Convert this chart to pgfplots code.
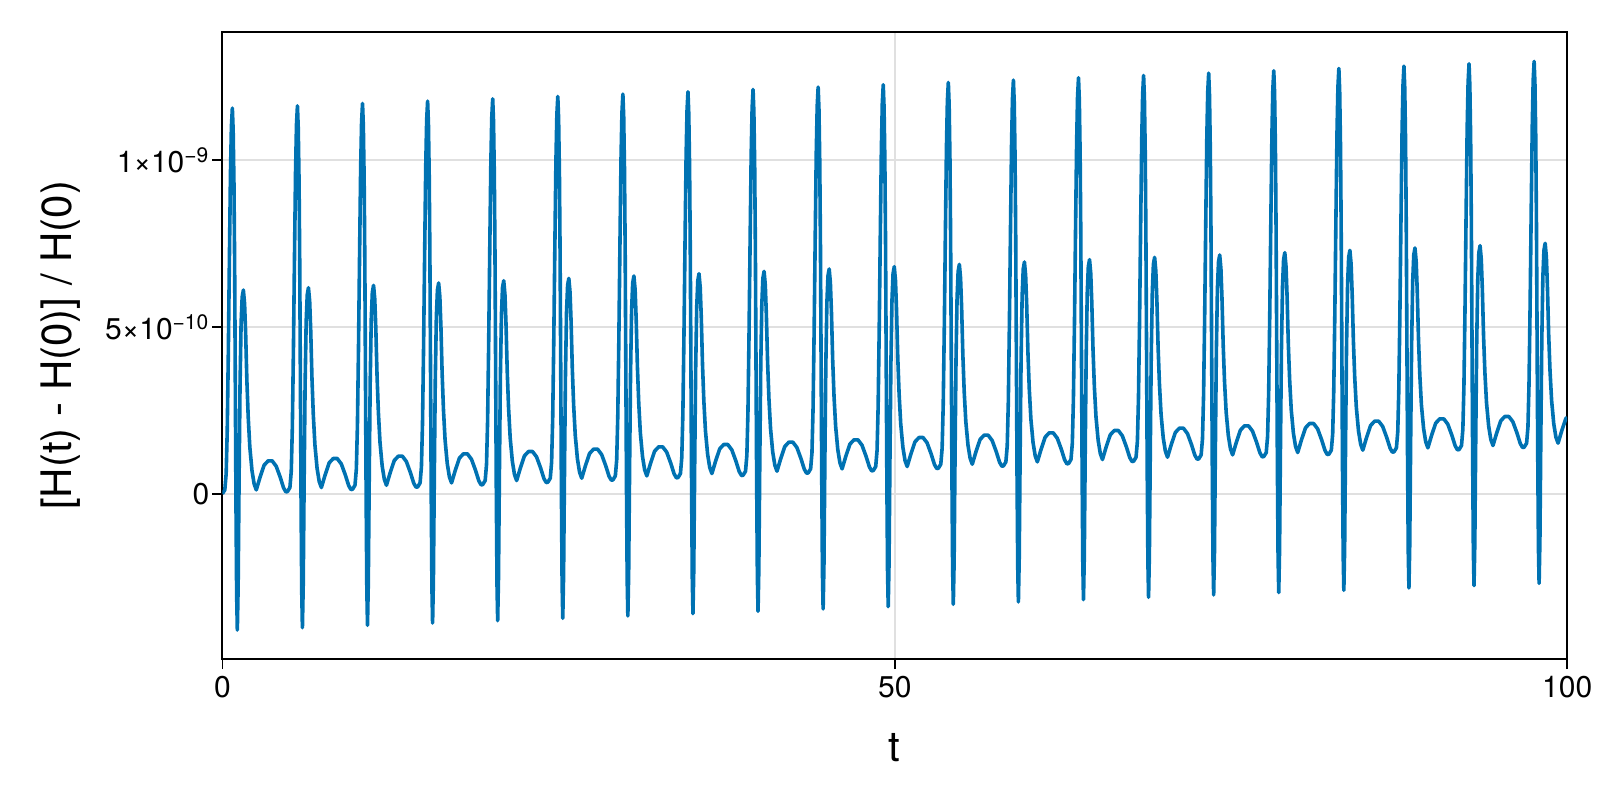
\documentclass[border=0pt]{standalone}
\usepackage{fontspec}
\setmainfont{TeX Gyre Heros}
\usepackage{pgfplots}
\pgfplotsset{compat=1.18}
\definecolor{lineblue}{RGB}{0,114,178}
\definecolor{gridgray}{RGB}{224,224,224}
\begin{document}
\begin{tikzpicture}
\begin{axis}[
  scale only axis, width=672.4pt, height=313.8pt,
  xmin=0, xmax=100, ymin=-0.4954, ymax=1.3854,
  xtick={0,50,100}, ytick={0,0.5,1},
  yticklabels={0, 5×10\textsuperscript{−10}, 1×10\textsuperscript{−9}},
  tick pos=left, tick align=outside, major tick length=5pt,
  tick style={black, line width=0.8pt},
  axis line style={line width=1pt},
  grid=major, major grid style={gridgray, line width=1pt},
  /pgf/number format/assume math mode=true,
  tick label style={font=\fontsize{15}{18}\selectfont},
  yticklabel style={xshift=2pt},
  label style={font=\fontsize{21}{25}\selectfont},
  xlabel={t}, ylabel={[H(t) - H(0)] / H(0)},
  xlabel style={at={(axis description cs:0.5,-0.1622)}, anchor=base},
  ylabel style={at={(axis description cs:-0.1205,0.5)}, anchor=center},
]
% values in units of 1e-9
\addplot[lineblue, line width=1.8pt, line join=round, no markers] coordinates {
(0,0) (0.18,0.012) (0.28,0.06) (0.36,0.19) (0.44,0.42) (0.52,0.70) (0.60,0.96) (0.67,1.10) (0.74,1.156) (0.80,1.09) (0.86,0.93) (0.91,0.69) (0.96,0.33) (1.01,-0.03) (1.06,-0.30) (1.11,-0.408) (1.17,-0.28) (1.24,0.04) (1.31,0.32) (1.39,0.51) (1.47,0.59) (1.56,0.611) (1.65,0.57) (1.73,0.48) (1.82,0.34) (1.92,0.23) (2.04,0.14) (2.20,0.07) (2.36,0.03) (2.52,0.012) (2.80,0.05) (3.10,0.086) (3.40,0.099) (3.70,0.099) (4.00,0.083) (4.30,0.05) (4.55,0.018) (4.72,0.006)
(4.84,0.007) (5.02,0.019) (5.12,0.067) (5.20,0.197) (5.28,0.427) (5.36,0.707) (5.44,0.967) (5.51,1.107) (5.58,1.163) (5.64,1.097) (5.70,0.937) (5.75,0.697) (5.80,0.337) (5.85,-0.023) (5.90,-0.293) (5.95,-0.401) (6.01,-0.273) (6.08,0.047) (6.15,0.327) (6.23,0.517) (6.31,0.597) (6.40,0.618) (6.49,0.577) (6.57,0.487) (6.66,0.347) (6.76,0.237) (6.88,0.147) (7.04,0.077) (7.20,0.037) (7.36,0.019) (7.64,0.057) (7.94,0.093) (8.24,0.106) (8.54,0.106) (8.84,0.090) (9.14,0.057) (9.39,0.025) (9.56,0.013)
(9.68,0.014) (9.86,0.026) (9.96,0.074) (10.04,0.204) (10.12,0.434) (10.20,0.714) (10.28,0.974) (10.35,1.114) (10.42,1.170) (10.48,1.104) (10.54,0.944) (10.59,0.704) (10.64,0.344) (10.69,-0.016) (10.74,-0.286) (10.79,-0.394) (10.85,-0.266) (10.92,0.054) (10.99,0.334) (11.07,0.524) (11.15,0.604) (11.24,0.625) (11.33,0.584) (11.41,0.494) (11.50,0.354) (11.60,0.244) (11.72,0.154) (11.88,0.084) (12.04,0.044) (12.20,0.026) (12.48,0.064) (12.78,0.100) (13.08,0.113) (13.38,0.113) (13.68,0.097) (13.98,0.064) (14.23,0.032) (14.40,0.020)
(14.52,0.021) (14.70,0.033) (14.80,0.081) (14.88,0.211) (14.96,0.441) (15.04,0.721) (15.12,0.981) (15.19,1.121) (15.26,1.177) (15.32,1.111) (15.38,0.951) (15.43,0.711) (15.48,0.351) (15.53,-0.009) (15.58,-0.279) (15.63,-0.387) (15.69,-0.259) (15.76,0.061) (15.83,0.341) (15.91,0.531) (15.99,0.611) (16.08,0.632) (16.17,0.591) (16.25,0.501) (16.34,0.361) (16.44,0.251) (16.56,0.161) (16.72,0.091) (16.88,0.051) (17.04,0.033) (17.32,0.071) (17.62,0.107) (17.92,0.120) (18.22,0.120) (18.52,0.104) (18.82,0.071) (19.07,0.039) (19.24,0.027)
(19.36,0.028) (19.54,0.040) (19.64,0.088) (19.72,0.218) (19.80,0.448) (19.88,0.728) (19.96,0.988) (20.03,1.128) (20.10,1.184) (20.16,1.118) (20.22,0.958) (20.27,0.718) (20.32,0.358) (20.37,-0.002) (20.42,-0.272) (20.47,-0.380) (20.53,-0.252) (20.60,0.068) (20.67,0.348) (20.75,0.538) (20.83,0.618) (20.92,0.639) (21.01,0.598) (21.09,0.508) (21.18,0.368) (21.28,0.258) (21.40,0.168) (21.56,0.098) (21.72,0.058) (21.88,0.040) (22.16,0.078) (22.46,0.114) (22.76,0.127) (23.06,0.127) (23.36,0.111) (23.66,0.078) (23.91,0.046) (24.08,0.034)
(24.20,0.035) (24.38,0.047) (24.48,0.095) (24.56,0.225) (24.64,0.455) (24.72,0.735) (24.80,0.995) (24.87,1.135) (24.94,1.191) (25.00,1.125) (25.06,0.965) (25.11,0.725) (25.16,0.365) (25.21,0.005) (25.26,-0.265) (25.31,-0.373) (25.37,-0.245) (25.44,0.075) (25.51,0.355) (25.59,0.545) (25.67,0.625) (25.76,0.646) (25.85,0.605) (25.93,0.515) (26.02,0.375) (26.12,0.265) (26.24,0.175) (26.40,0.105) (26.56,0.065) (26.72,0.047) (27.00,0.085) (27.30,0.121) (27.60,0.134) (27.90,0.134) (28.20,0.118) (28.50,0.085) (28.75,0.053) (28.92,0.041)
(29.04,0.042) (29.22,0.054) (29.32,0.102) (29.40,0.232) (29.48,0.462) (29.56,0.742) (29.64,1.002) (29.71,1.142) (29.78,1.198) (29.84,1.132) (29.90,0.972) (29.95,0.732) (30.00,0.372) (30.05,0.012) (30.10,-0.258) (30.15,-0.366) (30.21,-0.238) (30.28,0.082) (30.35,0.362) (30.43,0.552) (30.51,0.632) (30.60,0.653) (30.69,0.612) (30.77,0.522) (30.86,0.382) (30.96,0.272) (31.08,0.182) (31.24,0.112) (31.40,0.072) (31.56,0.054) (31.84,0.092) (32.14,0.128) (32.44,0.141) (32.74,0.141) (33.04,0.125) (33.34,0.092) (33.59,0.060) (33.76,0.048)
(33.88,0.049) (34.06,0.061) (34.16,0.109) (34.24,0.239) (34.32,0.469) (34.40,0.749) (34.48,1.009) (34.55,1.149) (34.62,1.205) (34.68,1.139) (34.74,0.979) (34.79,0.739) (34.84,0.379) (34.89,0.019) (34.94,-0.251) (34.99,-0.359) (35.05,-0.231) (35.12,0.089) (35.19,0.369) (35.27,0.559) (35.35,0.639) (35.44,0.660) (35.53,0.619) (35.61,0.529) (35.70,0.389) (35.80,0.279) (35.92,0.189) (36.08,0.119) (36.24,0.079) (36.40,0.061) (36.68,0.099) (36.98,0.135) (37.28,0.148) (37.58,0.148) (37.88,0.132) (38.18,0.099) (38.43,0.067) (38.60,0.055)
(38.72,0.056) (38.90,0.068) (39.00,0.116) (39.08,0.246) (39.16,0.476) (39.24,0.756) (39.32,1.016) (39.39,1.156) (39.46,1.212) (39.52,1.146) (39.58,0.986) (39.63,0.746) (39.68,0.386) (39.73,0.026) (39.78,-0.244) (39.83,-0.352) (39.89,-0.224) (39.96,0.096) (40.03,0.376) (40.11,0.566) (40.19,0.646) (40.28,0.667) (40.37,0.626) (40.45,0.536) (40.54,0.396) (40.64,0.286) (40.76,0.196) (40.92,0.126) (41.08,0.086) (41.24,0.068) (41.52,0.106) (41.82,0.142) (42.12,0.155) (42.42,0.155) (42.72,0.139) (43.02,0.106) (43.27,0.074) (43.44,0.062)
(43.56,0.063) (43.74,0.075) (43.84,0.123) (43.92,0.253) (44.00,0.483) (44.08,0.763) (44.16,1.023) (44.23,1.163) (44.30,1.219) (44.36,1.153) (44.42,0.993) (44.47,0.753) (44.52,0.393) (44.57,0.033) (44.62,-0.237) (44.67,-0.345) (44.73,-0.217) (44.80,0.103) (44.87,0.383) (44.95,0.573) (45.03,0.653) (45.12,0.674) (45.21,0.633) (45.29,0.543) (45.38,0.403) (45.48,0.293) (45.60,0.203) (45.76,0.133) (45.92,0.093) (46.08,0.075) (46.36,0.113) (46.66,0.149) (46.96,0.162) (47.26,0.162) (47.56,0.146) (47.86,0.113) (48.11,0.081) (48.28,0.069)
(48.40,0.070) (48.58,0.082) (48.68,0.130) (48.76,0.260) (48.84,0.490) (48.92,0.770) (49.00,1.030) (49.07,1.170) (49.14,1.226) (49.20,1.160) (49.26,1.000) (49.31,0.760) (49.36,0.400) (49.41,0.040) (49.46,-0.230) (49.51,-0.338) (49.57,-0.210) (49.64,0.110) (49.71,0.390) (49.79,0.580) (49.87,0.660) (49.96,0.681) (50.05,0.640) (50.13,0.550) (50.22,0.410) (50.32,0.300) (50.44,0.210) (50.60,0.140) (50.76,0.100) (50.92,0.082) (51.20,0.120) (51.50,0.156) (51.80,0.169) (52.10,0.169) (52.40,0.153) (52.70,0.120) (52.95,0.088) (53.12,0.076)
(53.24,0.077) (53.42,0.089) (53.52,0.137) (53.60,0.267) (53.68,0.497) (53.76,0.777) (53.84,1.037) (53.91,1.177) (53.98,1.233) (54.04,1.167) (54.10,1.007) (54.15,0.767) (54.20,0.407) (54.25,0.047) (54.30,-0.223) (54.35,-0.331) (54.41,-0.203) (54.48,0.117) (54.55,0.397) (54.63,0.587) (54.71,0.667) (54.80,0.688) (54.89,0.647) (54.97,0.557) (55.06,0.417) (55.16,0.307) (55.28,0.217) (55.44,0.147) (55.60,0.107) (55.76,0.089) (56.04,0.127) (56.34,0.163) (56.64,0.176) (56.94,0.176) (57.24,0.160) (57.54,0.127) (57.79,0.095) (57.96,0.083)
(58.08,0.084) (58.26,0.096) (58.36,0.144) (58.44,0.274) (58.52,0.504) (58.60,0.784) (58.68,1.044) (58.75,1.184) (58.82,1.240) (58.88,1.174) (58.94,1.014) (58.99,0.774) (59.04,0.414) (59.09,0.054) (59.14,-0.216) (59.19,-0.324) (59.25,-0.196) (59.32,0.124) (59.39,0.404) (59.47,0.594) (59.55,0.674) (59.64,0.695) (59.73,0.654) (59.81,0.564) (59.90,0.424) (60.00,0.314) (60.12,0.224) (60.28,0.154) (60.44,0.114) (60.60,0.096) (60.88,0.134) (61.18,0.170) (61.48,0.183) (61.78,0.183) (62.08,0.167) (62.38,0.134) (62.63,0.102) (62.80,0.090)
(62.92,0.091) (63.10,0.103) (63.20,0.151) (63.28,0.281) (63.36,0.511) (63.44,0.791) (63.52,1.051) (63.59,1.191) (63.66,1.247) (63.72,1.181) (63.78,1.021) (63.83,0.781) (63.88,0.421) (63.93,0.061) (63.98,-0.209) (64.03,-0.317) (64.09,-0.189) (64.16,0.131) (64.23,0.411) (64.31,0.601) (64.39,0.681) (64.48,0.702) (64.57,0.661) (64.65,0.571) (64.74,0.431) (64.84,0.321) (64.96,0.231) (65.12,0.161) (65.28,0.121) (65.44,0.103) (65.72,0.141) (66.02,0.177) (66.32,0.190) (66.62,0.190) (66.92,0.174) (67.22,0.141) (67.47,0.109) (67.64,0.097)
(67.76,0.098) (67.94,0.110) (68.04,0.158) (68.12,0.288) (68.20,0.518) (68.28,0.798) (68.36,1.058) (68.43,1.198) (68.50,1.254) (68.56,1.188) (68.62,1.028) (68.67,0.788) (68.72,0.428) (68.77,0.068) (68.82,-0.202) (68.87,-0.310) (68.93,-0.182) (69.00,0.138) (69.07,0.418) (69.15,0.608) (69.23,0.688) (69.32,0.709) (69.41,0.668) (69.49,0.578) (69.58,0.438) (69.68,0.328) (69.80,0.238) (69.96,0.168) (70.12,0.128) (70.28,0.110) (70.56,0.148) (70.86,0.184) (71.16,0.197) (71.46,0.197) (71.76,0.181) (72.06,0.148) (72.31,0.116) (72.48,0.104)
(72.60,0.105) (72.78,0.117) (72.88,0.165) (72.96,0.295) (73.04,0.525) (73.12,0.805) (73.20,1.065) (73.27,1.205) (73.34,1.261) (73.40,1.195) (73.46,1.035) (73.51,0.795) (73.56,0.435) (73.61,0.075) (73.66,-0.195) (73.71,-0.303) (73.77,-0.175) (73.84,0.145) (73.91,0.425) (73.99,0.615) (74.07,0.695) (74.16,0.716) (74.25,0.675) (74.33,0.585) (74.42,0.445) (74.52,0.335) (74.64,0.245) (74.80,0.175) (74.96,0.135) (75.12,0.117) (75.40,0.155) (75.70,0.191) (76.00,0.204) (76.30,0.204) (76.60,0.188) (76.90,0.155) (77.15,0.123) (77.32,0.111)
(77.44,0.112) (77.62,0.124) (77.72,0.172) (77.80,0.302) (77.88,0.532) (77.96,0.812) (78.04,1.072) (78.11,1.212) (78.18,1.268) (78.24,1.202) (78.30,1.042) (78.35,0.802) (78.40,0.442) (78.45,0.082) (78.50,-0.188) (78.55,-0.296) (78.61,-0.168) (78.68,0.152) (78.75,0.432) (78.83,0.622) (78.91,0.702) (79.00,0.723) (79.09,0.682) (79.17,0.592) (79.26,0.452) (79.36,0.342) (79.48,0.252) (79.64,0.182) (79.80,0.142) (79.96,0.124) (80.24,0.162) (80.54,0.198) (80.84,0.211) (81.14,0.211) (81.44,0.195) (81.74,0.162) (81.99,0.130) (82.16,0.118)
(82.28,0.119) (82.46,0.131) (82.56,0.179) (82.64,0.309) (82.72,0.539) (82.80,0.819) (82.88,1.079) (82.95,1.219) (83.02,1.275) (83.08,1.209) (83.14,1.049) (83.19,0.809) (83.24,0.449) (83.29,0.089) (83.34,-0.181) (83.39,-0.289) (83.45,-0.161) (83.52,0.159) (83.59,0.439) (83.67,0.629) (83.75,0.709) (83.84,0.730) (83.93,0.689) (84.01,0.599) (84.10,0.459) (84.20,0.349) (84.32,0.259) (84.48,0.189) (84.64,0.149) (84.80,0.131) (85.08,0.169) (85.38,0.205) (85.68,0.218) (85.98,0.218) (86.28,0.202) (86.58,0.169) (86.83,0.137) (87.00,0.125)
(87.12,0.126) (87.30,0.138) (87.40,0.186) (87.48,0.316) (87.56,0.546) (87.64,0.826) (87.72,1.086) (87.79,1.226) (87.86,1.282) (87.92,1.216) (87.98,1.056) (88.03,0.816) (88.08,0.456) (88.13,0.096) (88.18,-0.174) (88.23,-0.282) (88.29,-0.154) (88.36,0.166) (88.43,0.446) (88.51,0.636) (88.59,0.716) (88.68,0.737) (88.77,0.696) (88.85,0.606) (88.94,0.466) (89.04,0.356) (89.16,0.266) (89.32,0.196) (89.48,0.156) (89.64,0.138) (89.92,0.176) (90.22,0.212) (90.52,0.225) (90.82,0.225) (91.12,0.209) (91.42,0.176) (91.67,0.144) (91.84,0.132)
(91.96,0.133) (92.14,0.145) (92.24,0.193) (92.32,0.323) (92.40,0.553) (92.48,0.833) (92.56,1.093) (92.63,1.233) (92.70,1.289) (92.76,1.223) (92.82,1.063) (92.87,0.823) (92.92,0.463) (92.97,0.103) (93.02,-0.167) (93.07,-0.275) (93.13,-0.147) (93.20,0.173) (93.27,0.453) (93.35,0.643) (93.43,0.723) (93.52,0.744) (93.61,0.703) (93.69,0.613) (93.78,0.473) (93.88,0.363) (94.00,0.273) (94.16,0.203) (94.32,0.163) (94.48,0.145) (94.76,0.183) (95.06,0.219) (95.36,0.232) (95.66,0.232) (95.96,0.216) (96.26,0.183) (96.51,0.151) (96.68,0.139)
(96.80,0.140) (96.98,0.152) (97.08,0.200) (97.16,0.330) (97.24,0.560) (97.32,0.840) (97.40,1.100) (97.47,1.240) (97.54,1.296) (97.60,1.230) (97.66,1.070) (97.71,0.830) (97.76,0.470) (97.81,0.110) (97.86,-0.160) (97.91,-0.268) (97.97,-0.140) (98.04,0.180) (98.11,0.460) (98.19,0.650) (98.27,0.730) (98.36,0.751) (98.45,0.710) (98.53,0.620) (98.62,0.480) (98.72,0.370) (98.84,0.280) (99.00,0.210) (99.16,0.170) (99.32,0.152) (99.60,0.190) (99.90,0.226) (100,0.229)
};
\end{axis}
\pgfresetboundingbox
\path (-111.2pt,-70.4pt) rectangle (688.8pt,329.6pt);
\end{tikzpicture}
\end{document}
